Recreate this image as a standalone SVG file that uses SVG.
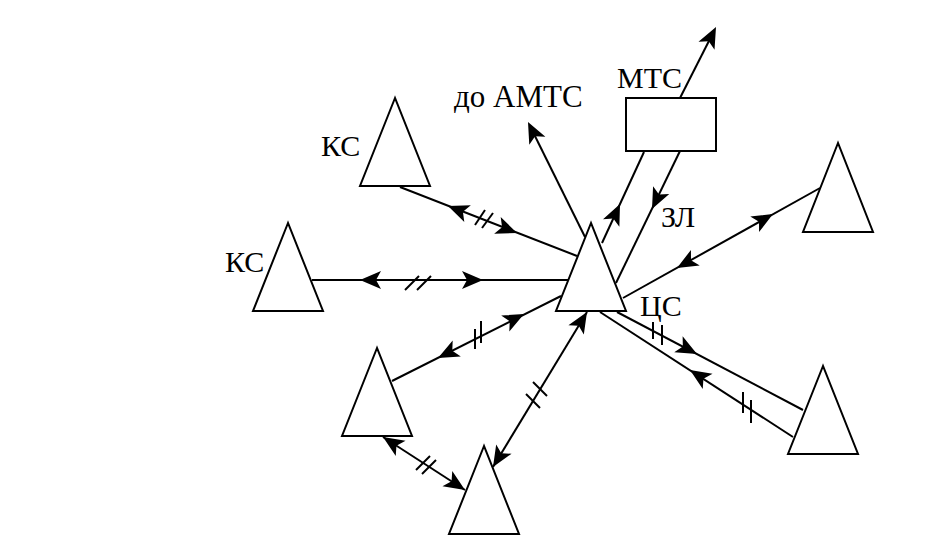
<svg xmlns="http://www.w3.org/2000/svg" xmlns:xlink="http://www.w3.org/1999/xlink" width="925" height="541" viewBox="0 0 925 541">
<style>
.ln{stroke:#000;stroke-width:2;fill:none}
.tk{stroke:#000;stroke-width:2;fill:none}
.tri{fill:#fff;stroke:#000;stroke-width:2;stroke-linejoin:miter}
.lbl{font-family:"Liberation Serif","Times New Roman",serif;font-size:30px;fill:#000}
</style>
<defs>
<path id="ah" d="M0,0 L-21,-9 L-16,0 L-21,9 Z" fill="#000"/>
</defs>
<rect width="925" height="541" fill="#fff"/>
<g id="connectors">
  <!-- top KS - central -->
  <line class="ln" x1="400" y1="187" x2="577" y2="256"/>
  <use xlink:href="#ah" transform="translate(448,206) rotate(201.3)"/>
  <use xlink:href="#ah" transform="translate(517,233) rotate(21.3)"/>
  <line class="tk" x1="475" y1="225" x2="485" y2="210"/>
  <line class="tk" x1="482" y1="228" x2="493" y2="213"/>
  <!-- left KS - central -->
  <line class="ln" x1="312" y1="280" x2="578" y2="280"/>
  <use xlink:href="#ah" transform="translate(360,280) rotate(180)"/>
  <use xlink:href="#ah" transform="translate(483,280)"/>
  <line class="tk" x1="405" y1="290" x2="419" y2="276"/>
  <line class="tk" x1="417" y1="290" x2="431" y2="276"/>
  <!-- do AMTS -->
  <line class="ln" x1="585" y1="237" x2="530" y2="126"/>
  <use xlink:href="#ah" transform="translate(528,122) rotate(243.6)"/>
  <!-- central -> MTS -->
  <line class="ln" x1="602" y1="243" x2="644" y2="152"/>
  <use xlink:href="#ah" transform="translate(620,204) rotate(-65.2)"/>
  <!-- MTS -> central -->
  <line class="ln" x1="680" y1="151" x2="616" y2="283"/>
  <use xlink:href="#ah" transform="translate(652,209) rotate(115.9)"/>
  <!-- MTS -> out -->
  <line class="ln" x1="680" y1="98" x2="714" y2="31"/>
  <use xlink:href="#ah" transform="translate(716,27) rotate(-63.1)"/>
  <!-- central - right upper -->
  <line class="ln" x1="623" y1="298" x2="820" y2="188"/>
  <use xlink:href="#ah" transform="translate(773,214) rotate(-29.2)"/>
  <use xlink:href="#ah" transform="translate(677,268) rotate(150.8)"/>
  <!-- central -> right lower (a) -->
  <line class="ln" x1="617" y1="312" x2="803" y2="410"/>
  <use xlink:href="#ah" transform="translate(697,354) rotate(27.8)"/>
  <line class="tk" x1="653" y1="322" x2="653" y2="339"/>
  <line class="tk" x1="662" y1="325" x2="662" y2="345"/>
  <!-- right lower -> central (b) -->
  <line class="ln" x1="600" y1="312" x2="793" y2="437"/>
  <use xlink:href="#ah" transform="translate(690,370) rotate(212.9)"/>
  <line class="tk" x1="743" y1="392" x2="743" y2="413"/>
  <line class="tk" x1="751" y1="400" x2="751" y2="423"/>
  <!-- central - left lower -->
  <line class="ln" x1="561" y1="296" x2="392" y2="381"/>
  <use xlink:href="#ah" transform="translate(524,314) rotate(-26.8)"/>
  <use xlink:href="#ah" transform="translate(438,358) rotate(153.2)"/>
  <line class="tk" x1="475" y1="329" x2="475" y2="349"/>
  <line class="tk" x1="481" y1="321" x2="481" y2="343"/>
  <!-- central - bottom -->
  <line class="ln" x1="587" y1="312" x2="493" y2="467"/>
  <use xlink:href="#ah" transform="translate(587,312) rotate(-58.8)"/>
  <use xlink:href="#ah" transform="translate(493,467) rotate(121.2)"/>
  <line class="tk" x1="533" y1="382" x2="547" y2="396"/>
  <line class="tk" x1="526" y1="394" x2="540" y2="408"/>
  <!-- left lower - bottom -->
  <line class="ln" x1="383" y1="437" x2="465" y2="490"/>
  <use xlink:href="#ah" transform="translate(383,437) rotate(212.9)"/>
  <use xlink:href="#ah" transform="translate(465,490) rotate(32.9)"/>
  <line class="tk" x1="416" y1="470" x2="430" y2="456"/>
  <line class="tk" x1="422" y1="474" x2="436" y2="460"/>
</g>
<g id="central">
  <polygon class="tri" points="591,223 556,311 626,311"/>
  <text class="lbl" x="640" y="316">ЦС</text>
</g>
<g id="ks-top">
  <polygon class="tri" points="395,98 360,186 430,186"/>
  <text class="lbl" x="321" y="156">КС</text>
</g>
<g id="ks-left">
  <polygon class="tri" points="288,223 253,311 323,311"/>
  <text class="lbl" x="225" y="272">КС</text>
</g>
<g id="right-upper">
  <polygon class="tri" points="838,143 803,232 873,232"/>
</g>
<g id="right-lower">
  <polygon class="tri" points="823,366 788,454 858,454"/>
</g>
<g id="left-lower">
  <polygon class="tri" points="377,348 342,436 412,436"/>
</g>
<g id="bottom">
  <polygon class="tri" points="484,446 449,534 519,534"/>
</g>
<g id="mts">
  <rect x="626" y="98" width="90" height="53" fill="#fff" stroke="#000" stroke-width="2"/>
  <text class="lbl" x="617" y="88">МТС</text>
</g>
<g id="amts-label">
  <text class="lbl" x="454" y="107" style="font-size:31px">до АМТС</text>
</g>
<g id="zl-label">
  <text class="lbl" x="661" y="227">ЗЛ</text>
</g>
</svg>
